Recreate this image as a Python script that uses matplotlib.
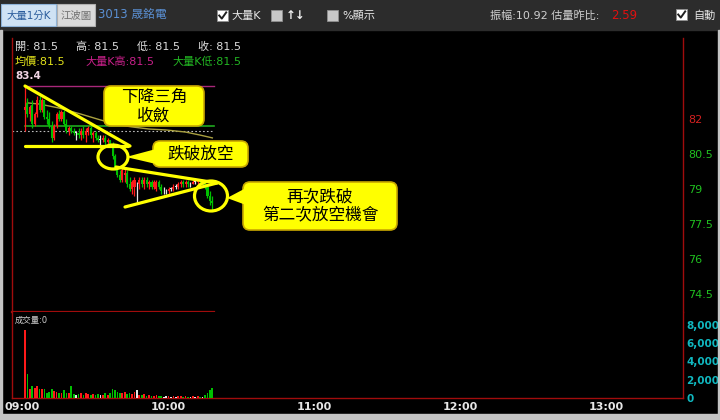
import numpy as np
import matplotlib
matplotlib.use('Agg')
import matplotlib.pyplot as plt
from matplotlib.patches import Rectangle, FancyBboxPatch, Ellipse, Polygon
from matplotlib.transforms import ScaledTranslation

plt.rcParams['font.family'] = ['DejaVu Sans', 'Noto Sans CJK TC']

# ---------------- data (1-minute bars from 09:00) ----------------
opens = [82.4, 82.7, 82.2, 82.6, 81.8, 82.2, 82.8, 82.4, 82.8, 82.1,
         82.0, 81.7, 81.2, 81.7, 82.2, 82.0, 82.3, 81.8, 81.5, 81.6,
         81.5, 81.4, 81.4, 81.3, 81.5, 81.3, 81.5, 81.6, 81.3, 81.4,
         81.2, 81.1, 81.1, 81.2, 81.0, 81.1, 80.9, 80.4, 79.9, 79.6,
         79.4, 79.6, 79.7, 79.2, 79.0, 79.1, 79.2, 79.2, 79.4, 79.2,
         79.4, 79.2, 79.3, 79.1, 79.0, 79.3, 79.1, 78.9, 78.9, 78.9,
         79.0, 79.0, 79.1, 79.1, 79.2, 79.3, 79.2, 79.3, 79.2, 79.2,
         79.3, 79.3, 79.4, 79.3, 79.3, 79.1, 78.7, 78.5]
highs = [83.4, 82.9, 82.6, 82.8, 82.3, 83.0, 83.0, 82.9, 82.8, 82.4,
         82.3, 81.9, 81.8, 82.3, 82.4, 82.4, 82.4, 82.0, 81.7, 81.7,
         81.6, 81.5, 81.6, 81.6, 81.7, 81.6, 81.7, 81.7, 81.5, 81.5,
         81.3, 81.3, 81.3, 81.3, 81.2, 81.1, 81.0, 80.5, 80.0, 79.8,
         79.9, 79.9, 79.8, 79.5, 79.4, 79.5, 79.3, 79.5, 79.5, 79.5,
         79.5, 79.4, 79.4, 79.4, 79.4, 79.4, 79.2, 79.1, 79.0, 79.1,
         79.1, 79.2, 79.2, 79.3, 79.4, 79.4, 79.4, 79.4, 79.3, 79.4,
         79.4, 79.4, 79.4, 79.4, 79.3, 79.2, 78.9, 78.7]
lows = [81.5, 82.1, 81.9, 81.6, 81.7, 82.1, 82.3, 82.3, 82.0, 81.8,
        81.6, 81.0, 81.1, 81.6, 81.9, 81.9, 81.7, 81.4, 81.3, 81.4,
        81.3, 81.1, 81.2, 81.1, 81.2, 81.0, 81.3, 81.2, 81.0, 81.1,
        81.0, 80.9, 81.0, 80.9, 80.9, 80.8, 80.3, 79.8, 79.5, 79.3,
        79.3, 79.3, 79.1, 78.9, 78.8, 78.7, 78.4, 79.0, 79.1, 79.0,
        79.1, 79.0, 79.0, 79.0, 78.9, 79.0, 78.8, 78.8, 78.8, 78.8,
        78.9, 78.9, 79.0, 79.0, 79.1, 79.1, 79.1, 79.1, 79.1, 79.2,
        79.2, 79.2, 79.2, 79.2, 79.0, 78.6, 78.3, 78.1]
closes = [82.5, 82.2, 82.5, 81.8, 82.2, 82.8, 82.4, 82.8, 82.1, 82.0,
          81.7, 81.2, 81.7, 82.2, 82.0, 82.3, 81.8, 81.5, 81.6, 81.5,
          81.4, 81.4, 81.3, 81.5, 81.3, 81.5, 81.6, 81.3, 81.4, 81.2,
          81.1, 81.1, 81.2, 81.0, 81.1, 80.9, 80.4, 79.9, 79.6, 79.4,
          79.8, 79.7, 79.2, 79.0, 79.3, 79.4, 79.2, 79.4, 79.2, 79.4,
          79.2, 79.3, 79.1, 79.3, 79.3, 79.1, 78.9, 78.9, 78.9, 79.0,
          79.0, 79.1, 79.1, 79.2, 79.3, 79.2, 79.3, 79.2, 79.2, 79.3,
          79.3, 79.4, 79.3, 79.3, 79.1, 78.7, 78.5, 78.4]
volumes = [7400, 2600, 1000, 1300, 1100, 1300, 1000, 1000, 1000, 600,
           700, 1000, 800, 700, 600, 500, 900, 500, 550, 1300,
           400, 300, 400, 500, 350, 600, 450, 300, 400, 350,
           400, 300, 350, 600, 300, 500, 1000, 900, 700, 600,
           500, 700, 450, 550, 400, 650, 850, 350, 300, 400,
           250, 300, 200, 250, 300, 200, 250, 150, 200, 250,
           150, 200, 150, 200, 250, 150, 200, 150, 100, 200,
           150, 200, 150, 100, 300, 600, 900, 1100]
avg_minutes = [1, 6, 14, 23, 31, 39, 44, 51, 58, 66, 72, 77]
avg_prices = [82.69, 82.64, 82.47, 82.21, 81.96, 81.74, 81.66, 81.57, 81.53, 81.44, 81.31, 81.19]

ref_price = 81.5
bigk_high = 83.4
bigk_low = 81.7
price_ticks = [74.5, 76, 77.5, 79, 80.5, 82]
price_tick_labels = ['74.5', '76', '77.5', '79', '80.5', '82']
vol_ticks = [0, 2000, 4000, 6000, 8000]
vol_tick_labels = ['0', '2,000', '4,000', '6,000', '8,000']
time_ticks = [0, 60, 120, 180, 240]
time_labels = ['09:00', '10:00', '11:00', '12:00', '13:00']

minutes = np.arange(len(opens))

RED = '#ff1a1a'
GREEN = '#00c000'
WHITE = '#e6e6e6'
FRAME = '#a00c0c'

W, H = 720, 420


def px(x0, y0, x1, y1):
    return [x0 / W, 1 - y1 / H, (x1 - x0) / W, (y1 - y0) / H]


fig = plt.figure(figsize=(7.2, 4.2), dpi=100, facecolor='black')

XMIN, XMAX = -5.34, 270.45
PMIN, PMAX = 73.727, 85.472

# ---------------- price panel ----------------
axp = fig.add_axes(px(12, 38, 683, 312))
axp.set_facecolor('black')
axp.set_xlim(XMIN, XMAX)
axp.set_ylim(PMIN, PMAX)
for s in ['top', 'bottom']:
    axp.spines[s].set_visible(False)
for s in ['left', 'right']:
    axp.spines[s].set_color(FRAME)
    axp.spines[s].set_linewidth(1.0)
axp.set_xticks([])
axp.yaxis.tick_right()
axp.set_yticks(price_ticks)
axp.set_yticklabels(price_tick_labels)
axp.tick_params(axis='y', length=0, pad=4, labelsize=8)
for lab, txt in zip(axp.get_yticklabels(), price_tick_labels):
    lab.set_color('#d42020' if txt == '82' else '#20c020')

colors = []
for o, c in zip(opens, closes):
    if c > o:
        colors.append(RED)
    elif c < o:
        colors.append(GREEN)
    else:
        colors.append(WHITE)

last = minutes[-1] + 0.5
axp.plot([0, last], [bigk_high, bigk_high], color='#a8287a', lw=1.0, zorder=2)
axp.plot([0, last], [bigk_low, bigk_low], color='#1fa81f', lw=1.2, zorder=2)
axp.plot([XMIN, last], [ref_price, ref_price], color='#bbbbbb', lw=0.8,
         ls=(0, (1.5, 2)), zorder=2)
axp.plot(avg_minutes, avg_prices, color='#a9a040', lw=1.0, zorder=2)
axp.plot([XMIN, last], [PMIN, PMIN], color=FRAME, lw=1.6, clip_on=False, zorder=3)

axp.vlines(minutes, lows, highs, colors=colors, lw=0.9, zorder=4)
bottoms = [min(o, c) for o, c in zip(opens, closes)]
heights = [max(abs(c - o), 0.03) for o, c in zip(opens, closes)]
axp.bar(minutes, heights, bottom=bottoms, width=0.85, color=colors, zorder=5)

# ---------------- volume panel ----------------
axv = fig.add_axes(px(12, 312, 683, 398))
axv.set_facecolor('black')
axv.set_xlim(XMIN, XMAX)
axv.set_ylim(0, 9400)
axv.spines['top'].set_visible(False)
for s in ['left', 'right', 'bottom']:
    axv.spines[s].set_color(FRAME)
    axv.spines[s].set_linewidth(1.0)
axv.bar(minutes, volumes, width=0.7, color=colors, zorder=4)
axv.yaxis.tick_right()
axv.set_yticks(vol_ticks)
axv.set_yticklabels(vol_tick_labels)
axv.tick_params(axis='y', length=0, pad=2.5, labelsize=7.5, labelcolor='#10b8c0')
for lab in axv.get_yticklabels():
    lab.set_fontweight('bold')
axv.set_xticks(time_ticks)
axv.set_xticklabels(time_labels)
axv.tick_params(axis='x', length=0, pad=3, labelsize=8, labelcolor='#e6e6e6')
for lab in axv.get_xticklabels():
    lab.set_fontweight('bold')
    lab.set_transform(lab.get_transform() + ScaledTranslation(-3 / 100, 0, fig.dpi_scale_trans))

# ---------------- overlay (UI + annotations, pixel coords) ----------------
ov = fig.add_axes([0, 0, 1, 1], zorder=10)
ov.set_xlim(0, W)
ov.set_ylim(H, 0)
ov.axis('off')
ov.patch.set_alpha(0)

# frame
ov.add_patch(Rectangle((0, 0), W, 30, color='#2c2c2c', zorder=1))
ov.add_patch(Rectangle((0, 414), W, 6, color='#c4c4c4', zorder=1))
ov.add_patch(Rectangle((0, 30), 2, 390, color='#c4c4c4', zorder=1))
ov.add_patch(Rectangle((718, 30), 2, 390, color='#c4c4c4', zorder=1))

# toolbar
ov.add_patch(Rectangle((1, 4), 55, 22, facecolor='#cfe2f4', edgecolor='#8fb4da', lw=0.8, zorder=2))
ov.text(28.5, 15.5, '大量1分K', ha='center', va='center', fontsize=7.5, color='#2a5c9c', zorder=3)
ov.add_patch(Rectangle((57, 4), 38, 22, facecolor='#dadada', edgecolor='#b0b0b0', lw=0.8, zorder=2))
ov.text(76, 15.5, '江波圖', ha='center', va='center', fontsize=7.5, color='#707070', zorder=3)
ov.text(98, 15.5, '3013 晟銘電', ha='left', va='center', fontsize=8.5, color='#5a8fd2', zorder=3)


def checkbox(x, y, checked, fill):
    ov.add_patch(Rectangle((x, y), 11, 11, facecolor=fill, edgecolor='#909090', lw=0.6, zorder=2))
    if checked:
        ov.plot([x + 2.2, x + 4.8, x + 9.2], [y + 5.5, y + 8.6, y + 2.4], color='#202020', lw=1.4, zorder=3)


checkbox(217, 10, True, 'white')
ov.text(231, 15.5, '大量K', ha='left', va='center', fontsize=8, color='#e6e6e6', zorder=3)
checkbox(271, 10, False, '#c8c8c8')
ov.text(286, 15.5, '↑↓', ha='left', va='center', fontsize=8.5, fontweight='bold', color='#f0f0f0', zorder=3)
checkbox(327, 10, False, '#c8c8c8')
ov.text(342, 15.5, '%顯示', ha='left', va='center', fontsize=8, color='#e6e6e6', zorder=3)
ov.text(490, 15.5, '振幅:10.92 估量昨比:', ha='left', va='center', fontsize=8, color='#cfcfcf', zorder=3)
ov.text(611, 15.5, '2.59', ha='left', va='center', fontsize=8.5, color='#e01010', zorder=3)
checkbox(676, 9, True, 'white')
ov.text(693, 15.5, '自動', ha='left', va='center', fontsize=8, color='#e6e6e6', zorder=3)

# readouts
ov.text(15, 47, '開: 81.5', ha='left', va='center', fontsize=8, color='#dcdcdc')
ov.text(76, 47, '高: 81.5', ha='left', va='center', fontsize=8, color='#dcdcdc')
ov.text(137, 47, '低: 81.5', ha='left', va='center', fontsize=8, color='#dcdcdc')
ov.text(198, 47, '收: 81.5', ha='left', va='center', fontsize=8, color='#dcdcdc')
ov.text(15, 62, '均價:81.5', ha='left', va='center', fontsize=8, color='#e2e21a')
ov.text(85, 62, '大量K高:81.5', ha='left', va='center', fontsize=8, color='#c8208a')
ov.text(172, 62, '大量K低:81.5', ha='left', va='center', fontsize=8, color='#22b522')
ov.text(15, 76, '83.4', ha='left', va='center', fontsize=7.5, fontweight='bold', color='#f0d4e4')
ov.text(15, 320, '成交量:0', ha='left', va='center', fontsize=6, color='#cfcfcf')

# annotations
YEL = '#ffff00'
LW = 2.3
ov.plot([25, 130], [86, 146], color=YEL, lw=LW, solid_capstyle='round', zorder=5)
ov.plot([25, 128], [146, 146], color=YEL, lw=LW, solid_capstyle='round', zorder=5)
ov.plot([116, 217], [167, 183], color=YEL, lw=LW, solid_capstyle='round', zorder=5)
ov.plot([125, 217], [207, 183], color=YEL, lw=LW, solid_capstyle='round', zorder=5)
ov.add_patch(Ellipse((113, 157), 30, 24, fill=False, edgecolor=YEL, lw=LW, zorder=5))
ov.add_patch(Ellipse((211, 196), 33, 30, fill=False, edgecolor=YEL, lw=LW, zorder=5))


def callout(x0, y0, x1, y1, text, pointer=None):
    ov.add_patch(FancyBboxPatch((x0, y0), x1 - x0, y1 - y0,
                                boxstyle='round,pad=0,rounding_size=7',
                                facecolor=YEL, edgecolor='#c9a800', lw=1.2, zorder=6))
    if pointer is not None:
        ov.add_patch(Polygon(pointer, closed=True, facecolor=YEL, edgecolor='none', zorder=6.5))
    ov.text((x0 + x1) / 2, (y0 + y1) / 2 + 0.5, text, ha='center', va='center', fontsize=12,
            color='black', linespacing=1.15, family=['Noto Sans CJK TC'], zorder=7)


callout(104, 86, 204, 126, '下降三角\n收斂')
callout(153, 141, 248, 167, '跌破放空', pointer=[(126, 157), (156, 149), (156, 164)])
callout(243, 182, 397, 230, '再次跌破\n第二次放空機會', pointer=[(227, 198), (246, 188), (246, 205)])

fig.savefig('out.png', dpi=100, facecolor=fig.get_facecolor())
